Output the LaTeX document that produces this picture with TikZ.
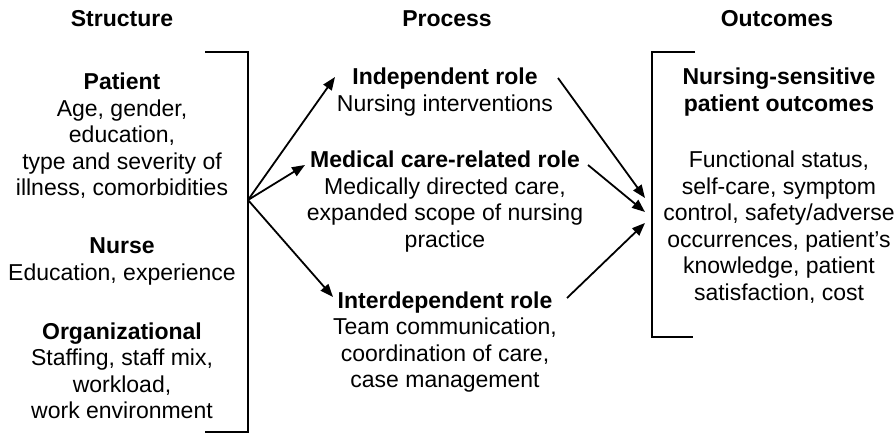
\documentclass[tikz,border=0pt]{standalone}
\usepackage{fontspec}
\setmainfont{Liberation Sans}
\usetikzlibrary{arrows.meta,positioning}

\begin{document}
\begin{tikzpicture}[x=1pt, y=-1pt,
    every node/.style={font={\fontsize{23}{26.5}\selectfont}, inner sep=0pt, align=center, anchor=base},
    arr/.style={-{Triangle[length=13pt,width=10pt]}, line width=1.8pt},
    brk/.style={line width=2.4pt}]
        % Page frame
        \useasboundingbox (0,0) rectangle (896,435);

        % Column titles
        \node[font={\fontsize{23}{26.5}\selectfont\bfseries}] (structure) at (122,27) {Structure};
        \node[font={\fontsize{23}{26.5}\selectfont\bfseries}] (process) at (447,27) {Process};
        \node[font={\fontsize{23}{26.5}\selectfont\bfseries}] (outcomes) at (777,27) {Outcomes};

        % Structure column (placed at the baseline of the last line)
        \node (patient) at (122,196) {\textbf{Patient}\\Age, gender,\\education,\\type and severity of\\illness, comorbidities};
        \node (nurse) at (122,280.5) {\textbf{Nurse}\\Education, experience};
        \node (organ) at (122,418.5) {\textbf{Organizational}\\Staffing, staff mix,\\workload,\\work environment};

        % Process column
        \node (indep) at (445,111.5) {\textbf{Independent role}\\Nursing interventions};
        \node (medical) at (445,247.5) {\textbf{Medical care-related role}\\Medically directed care,\\expanded scope of nursing\\practice};
        \node (interdep) at (445,387.5) {\textbf{Interdependent role}\\Team communication,\\coordination of care,\\case management};

        % Outcomes column
        \node (nsout) at (779,111.5) {\textbf{Nursing-sensitive}\\\textbf{patient outcomes}};
        \node (measures) at (779,300.5) {Functional status,\\self-care, symptom\\control, safety/adverse\\occurrences, patient's\\knowledge, patient\\satisfaction, cost};

        % Brackets
        \draw[brk] (205,52) -| (248,432) -- (205,432);
        \draw[brk] (695,52) -| (652,337) -- (693,337);

        % Arrow ends
        \coordinate (fork) at (248,200);
        \coordinate (P1) at (335,77);    % independent
        \coordinate (P2) at (305,165);   % medical
        \coordinate (P3) at (333,297);   % interdependent
        \coordinate (S1) at (558,78);
        \coordinate (S2) at (588,165);
        \coordinate (S3) at (567,298);
        \coordinate (O1) at (645,198);
        \coordinate (O2) at (645,212);
        \coordinate (O3) at (645,223);

        % Structure -> process
        \foreach \p in {P1,P2,P3}{
            \draw[arr] (fork) -- (\p);
        }

        % Process -> outcomes
        \foreach \s/\o in {S1/O1,S2/O2,S3/O3}{
            \draw[arr] (\s) -- (\o);
        }
    \end{tikzpicture}
\end{document}
